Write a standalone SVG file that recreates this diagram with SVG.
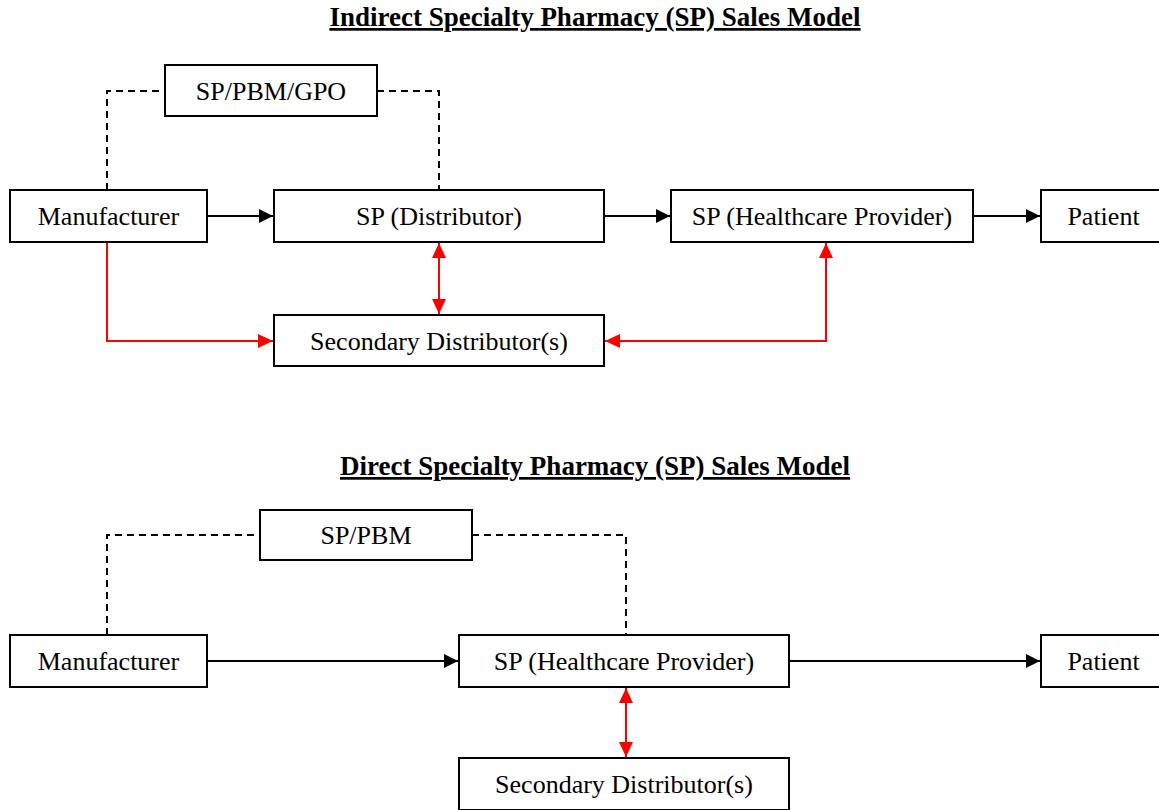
<svg xmlns="http://www.w3.org/2000/svg" width="1159" height="810" viewBox="0 0 1159 810">
<style>
  .box{fill:#fff;stroke:#000;stroke-width:2}
  .lbl{font-family:"Liberation Serif","Times New Roman",serif;font-size:26px;text-anchor:middle;fill:#000}
  .title{font-family:"Liberation Serif","Times New Roman",serif;font-size:27px;font-weight:bold;text-anchor:middle;text-decoration:underline;fill:#000}
  .blk{fill:none;stroke:#000;stroke-width:2}
  .dash{fill:none;stroke:#000;stroke-width:2;stroke-dasharray:7,5}
  .red{fill:none;stroke:#ff0000;stroke-width:2}
</style>
<defs>
  <marker id="ab" markerUnits="userSpaceOnUse" markerWidth="15" markerHeight="16" refX="14" refY="8" orient="auto-start-reverse"><path d="M0,1 L14,8 L0,15 z" fill="#000"/></marker>
  <marker id="ar" markerUnits="userSpaceOnUse" markerWidth="16" markerHeight="16" refX="15" refY="8" orient="auto-start-reverse"><path d="M0,1 L15,8 L0,15 z" fill="#ff0000"/></marker>
</defs>
<rect width="1159" height="810" fill="#fff"/>
<text class="title" x="595" y="26">Indirect Specialty Pharmacy (SP) Sales Model</text>
<text class="title" x="595" y="475">Direct Specialty Pharmacy (SP) Sales Model</text>
<g id="connectors">
  <path class="dash" d="M107,190 V91 H165"/>
  <path class="dash" d="M377,91 H439 V190"/>
  <path class="blk" d="M207,216 H273" marker-end="url(#ab)"/>
  <path class="blk" d="M604,216 H670" marker-end="url(#ab)"/>
  <path class="blk" d="M973,216 H1040" marker-end="url(#ab)"/>
  <path class="red" d="M107,242 V341 H273" marker-end="url(#ar)"/>
  <path class="red" d="M439,243 V314" marker-start="url(#ar)" marker-end="url(#ar)"/>
  <path class="red" d="M826,243 V341 H605" marker-start="url(#ar)" marker-end="url(#ar)"/>
  <path class="dash" d="M107,635 V535 H260"/>
  <path class="dash" d="M472,535 H626 V635"/>
  <path class="blk" d="M207,661 H458" marker-end="url(#ab)"/>
  <path class="blk" d="M789,661 H1040" marker-end="url(#ab)"/>
  <path class="red" d="M626,688 V757" marker-start="url(#ar)" marker-end="url(#ar)"/>
</g>
<g id="n-top-spgpo"><rect class="box" x="165" y="65" width="212" height="51"/><text class="lbl" x="271" y="100">SP/PBM/GPO</text></g>
<g id="n-top-manufacturer"><rect class="box" x="10" y="190" width="197" height="52"/><text class="lbl" x="108.5" y="225">Manufacturer</text></g>
<g id="n-top-spdist"><rect class="box" x="274" y="190" width="330" height="52"/><text class="lbl" x="439" y="225">SP (Distributor)</text></g>
<g id="n-top-sphp"><rect class="box" x="671" y="190" width="302" height="52"/><text class="lbl" x="822" y="225">SP (Healthcare Provider)</text></g>
<g id="n-top-patient"><rect class="box" x="1041" y="190" width="125" height="52"/><text class="lbl" x="1103.5" y="225">Patient</text></g>
<g id="n-top-secondary"><rect class="box" x="274" y="315" width="330" height="51"/><text class="lbl" x="439" y="350">Secondary Distributor(s)</text></g>
<g id="n-bot-sppbm"><rect class="box" x="260" y="510" width="212" height="50"/><text class="lbl" x="366" y="544">SP/PBM</text></g>
<g id="n-bot-manufacturer"><rect class="box" x="10" y="635" width="197" height="52"/><text class="lbl" x="108.5" y="670">Manufacturer</text></g>
<g id="n-bot-sphp"><rect class="box" x="459" y="635" width="330" height="52"/><text class="lbl" x="624" y="670">SP (Healthcare Provider)</text></g>
<g id="n-bot-patient"><rect class="box" x="1041" y="635" width="125" height="52"/><text class="lbl" x="1103.5" y="670">Patient</text></g>
<g id="n-bot-secondary"><rect class="box" x="459" y="758" width="330" height="52"/><text class="lbl" x="624" y="793">Secondary Distributor(s)</text></g>
</svg>
